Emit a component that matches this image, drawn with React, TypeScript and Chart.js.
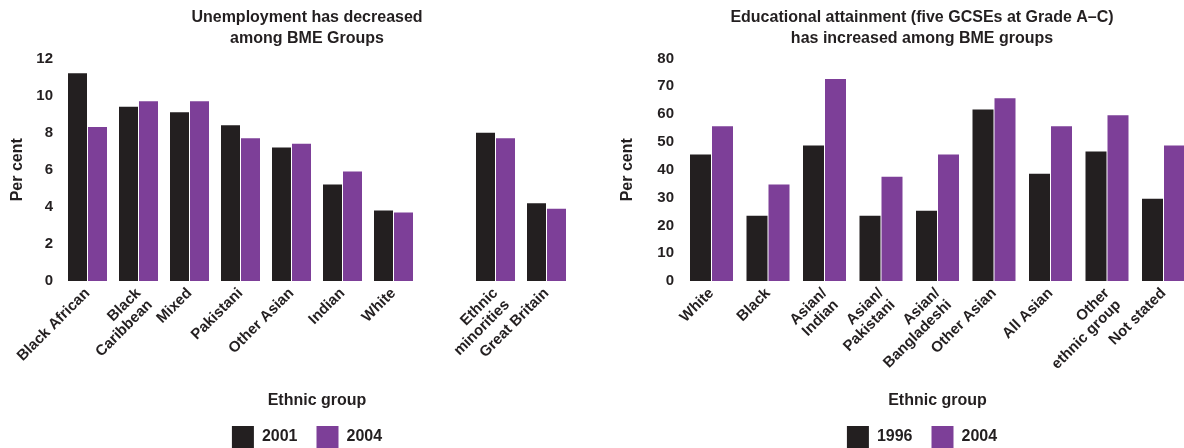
import React, { useEffect, useRef } from 'react';
import { Chart, registerables } from 'chart.js';

Chart.register(...registerables);

const INK = '#231f20';
const PURPLE = '#7d3f98';
const FONT = '"Liberation Sans", Arial, Helvetica, sans-serif';

// ---- Left chart: unemployment ----
const unempTitle = ['Unemployment has decreased', 'among BME Groups'];
const unempCategories: (string | string[])[] = [
  'Black African',
  ['Black', 'Caribbean'],
  'Mixed',
  'Pakistani',
  'Other Asian',
  'Indian',
  'White',
  '',
  ['Ethnic', 'minorities'],
  'Great Britain',
];
const unempSeriesNames = ['2001', '2004'];
const unemp2001 = [11.2, 9.4, 9.1, 8.4, 7.2, 5.2, 3.8, null, 8.0, 4.2];
const unemp2004 = [8.3, 9.7, 9.7, 7.7, 7.4, 5.9, 3.7, null, 7.7, 3.9];
const unempYMax = 12;
const unempYStep = 2;

// ---- Right chart: educational attainment ----
const eduTitle = ['Educational attainment (five GCSEs at Grade A\u2013C)', 'has increased among BME groups'];
const eduCategories: (string | string[])[] = [
  'White',
  'Black',
  ['Asian/', 'Indian'],
  ['Asian/', 'Pakistani'],
  ['Asian/', 'Bangladeshi'],
  'Other Asian',
  'All Asian',
  ['Other', 'ethnic group'],
  'Not stated',
];
const eduSeriesNames = ['1996', '2004'];
const edu1996 = [45.5, 23.5, 48.7, 23.5, 25.3, 61.7, 38.6, 46.6, 29.6];
const edu2004 = [55.6, 34.7, 72.6, 37.5, 45.5, 65.7, 55.6, 59.6, 48.7];
const eduYMax = 80;
const eduYStep = 10;

const xAxisTitle = 'Ethnic group';
const yAxisTitle = 'Per cent';

type Params = {
  title: string[];
  labels: (string | string[])[];
  names: string[];
  s1: (number | null)[];
  s2: (number | null)[];
  yMax: number;
  yStep: number;
  yWidth: number;
  rightWidth: number;
  catPct: number;
  barPct: number;
  tickPad: number;
};

function makeConfig(p: Params): any {
  const bold = (size: number, lineHeight?: number) => ({
    family: FONT,
    size,
    weight: 'bold' as const,
    ...(lineHeight ? { lineHeight } : {}),
  });
  return {
    type: 'bar',
    data: {
      labels: p.labels,
      datasets: [
        {
          label: p.names[0],
          data: p.s1,
          backgroundColor: INK,
          borderWidth: 0,
          categoryPercentage: p.catPct,
          barPercentage: p.barPct,
        },
        {
          label: p.names[1],
          data: p.s2,
          backgroundColor: PURPLE,
          borderWidth: 0,
          categoryPercentage: p.catPct,
          barPercentage: p.barPct,
        },
      ],
    },
    options: {
      responsive: false,
      animation: false,
      layout: { padding: 0 },
      plugins: {
        title: {
          display: true,
          text: p.title,
          color: INK,
          font: bold(16, 1.3125),
          padding: { top: 7.5, bottom: 9 },
        },
        legend: {
          position: 'bottom',
          labels: {
            boxWidth: 22,
            boxHeight: 22,
            padding: 19,
            color: INK,
            font: bold(16),
          },
        },
        tooltip: { enabled: false },
      },
      scales: {
        x: {
          grid: { display: false, drawTicks: false },
          border: { display: false },
          ticks: {
            autoSkip: false,
            maxRotation: 45,
            minRotation: 45,
            color: INK,
            font: bold(15, 1.1),
            padding: 4,
          },
          title: {
            display: true,
            text: xAxisTitle,
            color: INK,
            font: bold(16, 1),
            padding: { top: 0, bottom: -2 },
          },
          afterFit: (s: any) => {
            s.height = 126;
          },
        },
        y: {
          min: 0,
          max: p.yMax,
          grid: { display: false, drawTicks: false },
          border: { display: false },
          ticks: {
            stepSize: p.yStep,
            color: INK,
            font: bold(15),
            padding: p.tickPad,
          },
          title: {
            display: true,
            text: yAxisTitle,
            color: INK,
            font: bold(16, 1.2),
            padding: { top: 7.5, bottom: 0 },
          },
          afterFit: (s: any) => {
            s.width = p.yWidth;
          },
        },
        spacer: {
          type: 'linear',
          position: 'right',
          display: true,
          grid: { display: false, drawTicks: false },
          border: { display: false },
          ticks: { display: false },
          afterFit: (s: any) => {
            s.width = p.rightWidth;
          },
        },
      },
    },
  };
}

export default function App() {
  const leftRef = useRef<HTMLCanvasElement>(null);
  const rightRef = useRef<HTMLCanvasElement>(null);

  useEffect(() => {
    Chart.defaults.font.family = FONT;
    const c1 = new Chart(
      leftRef.current as HTMLCanvasElement,
      makeConfig({
        title: unempTitle,
        labels: unempCategories,
        names: unempSeriesNames,
        s1: unemp2001,
        s2: unemp2004,
        yMax: unempYMax,
        yStep: unempYStep,
        yWidth: 62,
        rightWidth: 42,
        catPct: 40 / 51,
        barPct: 0.95,
        tickPad: 9,
      })
    );
    const c2 = new Chart(
      rightRef.current as HTMLCanvasElement,
      makeConfig({
        title: eduTitle,
        labels: eduCategories,
        names: eduSeriesNames,
        s1: edu1996,
        s2: edu2004,
        yMax: eduYMax,
        yStep: eduYStep,
        yWidth: 73.25,
        rightWidth: 42.25,
        catPct: 44 / 56.5,
        barPct: 21 / 22,
        tickPad: 9.25,
      })
    );
    return () => {
      c1.destroy();
      c2.destroy();
    };
  }, []);

  return (
    <div
      style={{
        position: 'fixed',
        left: 0,
        top: 0,
        width: 1184,
        height: 448,
        overflow: 'hidden',
        background: '#ffffff',
      }}
    >
      <canvas
        ref={leftRef}
        width={614}
        height={458}
        style={{ position: 'absolute', left: 0, top: 0, width: 614, height: 458 }}
      />
      <canvas
        ref={rightRef}
        width={624}
        height={458}
        style={{ position: 'absolute', left: 610, top: 0, width: 624, height: 458 }}
      />
    </div>
  );
}
